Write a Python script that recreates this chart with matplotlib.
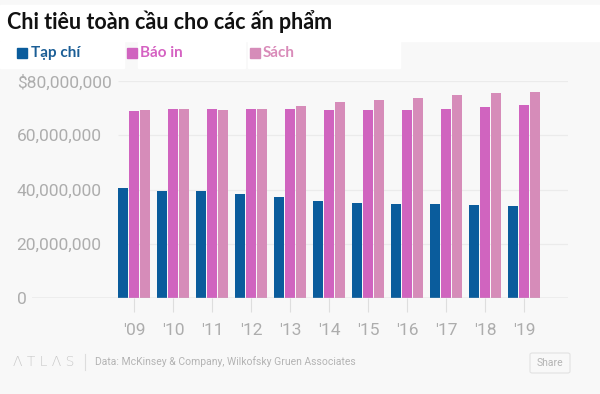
import matplotlib.pyplot as plt
import numpy as np
from matplotlib.patches import Rectangle, FancyBboxPatch
from matplotlib.lines import Line2D

years = ["'09", "'10", "'11", "'12", "'13", "'14", "'15", "'16", "'17", "'18", "'19"]
tap_chi = [40.6, 39.4, 39.4, 38.4, 37.2, 35.9, 35.2, 34.7, 34.5, 34.2, 34.1]
bao_in = [69.1, 69.8, 69.8, 69.8, 69.6, 69.2, 69.2, 69.4, 69.8, 70.3, 71.0]
sach = [69.4, 69.8, 69.3, 69.8, 70.6, 72.1, 72.9, 73.9, 74.8, 75.5, 76.1]
series_names = ["Tạp chí", "Báo in", "Sách"]
colors = ["#0a5c9c", "#d064bf", "#d68cb9"]
label_colors = ["#1b5e96", "#d562c2", "#d98bb9"]
yticks = [0, 20e6, 40e6, 60e6, 80e6]
ytick_labels = ["0", "20,000,000", "40,000,000", "60,000,000", "$80,000,000"]

BG = "#f8f8f8"
W, H = 600, 394
HEAD_FONT = ["Lato", "DejaVu Sans"]

fig = plt.figure(figsize=(6, 3.94), dpi=100, facecolor=BG)


def fx(px):
    return px / W


def fy(py):
    return 1 - py / H


# white header strips
fig.patches.append(Rectangle((fx(0), fy(41)), 1, fy(5) - fy(41),
                             transform=fig.transFigure, color="white", zorder=0))
for x0, x1 in [(0, 124), (138, 245), (248, 400)]:
    fig.patches.append(Rectangle((fx(x0), fy(68)), fx(x1 - x0), fy(41) - fy(68),
                                 transform=fig.transFigure, color="white", zorder=0))

ax = fig.add_axes([fx(32), fy(298), fx(568 - 32), fy(81) - fy(298)])
ax.set_facecolor("none")

x = np.arange(len(years))
offsets = [-0.285, 0.0, 0.285]
for vals, off, c in zip([tap_chi, bao_in, sach], offsets, colors):
    ax.bar(x + off, np.array(vals) * 1e6, width=0.265, color=c, zorder=3)

xmin = -102 / 39
xmax = 10 + 44 / 39
ax.set_xlim(xmin, xmax)
ax.set_ylim(0, 80e6)

ax.hlines(yticks[1:], -0.42, xmax, color="#ebebeb", lw=0.9, zorder=1)
ax.axhline(0, color="#c4c4c4", lw=1.0, zorder=4)

for s in ax.spines.values():
    s.set_visible(False)

ax.set_xticks(x)
ax.set_xticklabels(years, fontsize=12.5, color="#adadad", family="Roboto")
ax.tick_params(axis="x", length=10, width=0.8, color="#dedede", pad=8)

ax.set_yticks(yticks)
ax.set_yticklabels(ytick_labels, fontsize=12.5, color="#adadad", family="Roboto")
for lab in ax.get_yticklabels():
    lab.set_ha("left")
ax.tick_params(axis="y", length=0, pad=11)

# title
fig.text(fx(7), fy(22), "Chi tiêu toàn cầu cho các ấn phẩm", fontsize=15.5,
         fontweight="bold", color="#111111", va="center", ha="left",
         family=HEAD_FONT)

# legend
for name, c, lc, sq, tx in zip(series_names, colors, label_colors,
                               [17, 127, 250], [31, 140, 263]):
    fig.patches.append(Rectangle((fx(sq), fy(58)), fx(10), fy(48) - fy(58),
                                 transform=fig.transFigure, color=c, zorder=2))
    fig.text(fx(tx), fy(53), name, fontsize=11, fontweight="bold", color=lc,
             va="center", ha="left", family=HEAD_FONT)

# footer
fig.text(fx(13), fy(362), "Λ T L Λ S", fontsize=10, color="#c8c8c8", va="center",
         ha="left", family="DejaVu Sans", fontweight="light")
fig.add_artist(Line2D([fx(85), fx(85)], [fy(354), fy(370)], color="#dddddd",
                      lw=0.8, transform=fig.transFigure))
fig.text(fx(95), fy(362), "Data: McKinsey & Company, Wilkofsky Gruen Associates",
         fontsize=7.5, color="#b4b4b4", va="center", ha="left", family="Roboto")
fig.patches.append(FancyBboxPatch((fx(530), fy(373)), fx(40), fy(353) - fy(373),
                                  boxstyle="round,pad=0,rounding_size=0.004",
                                  transform=fig.transFigure, facecolor=BG,
                                  edgecolor="#e2e2e2", lw=0.8))
fig.text(fx(550), fy(363), "Share", fontsize=7.5, color="#b4b4b4", va="center",
         ha="center", family="Roboto")

fig.savefig("out.png", dpi=100, facecolor=BG)
